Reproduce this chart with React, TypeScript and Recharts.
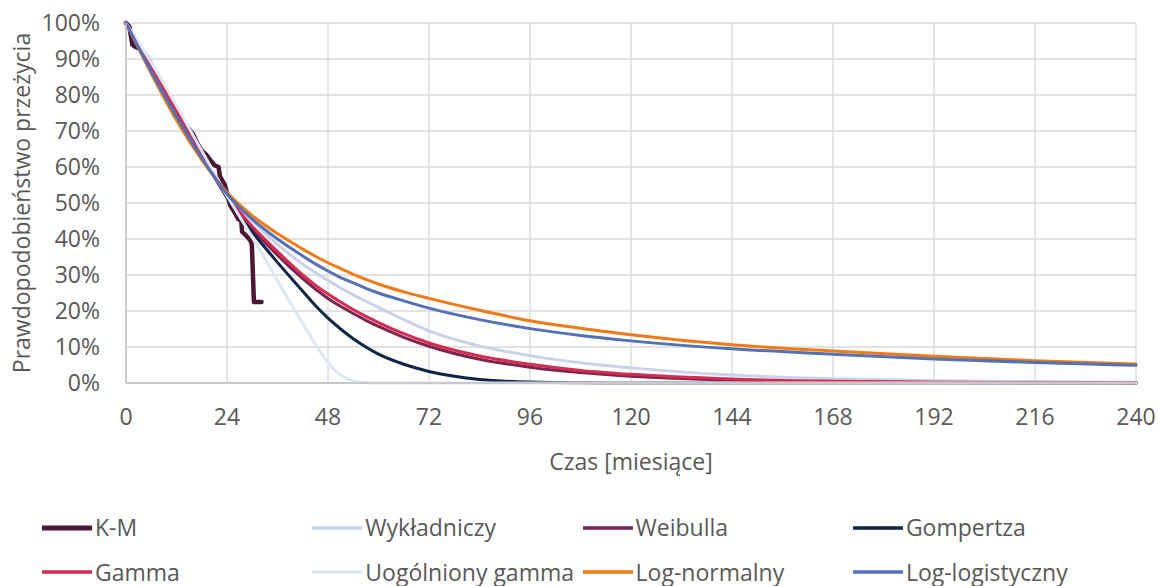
import React from "react";
import { LineChart, Line, XAxis, YAxis, CartesianGrid, Legend } from "recharts";

const MONTHS = [0, 6, 12, 18, 24, 30, 36, 42, 45, 48, 51, 54, 57, 60, 66, 72, 84, 96, 108, 120, 144, 168, 192, 216, 240];

const EXPONENTIAL = [100, 87.5, 75.5, 63.5, 52.5, 45, 38.5, 33, 30.7, 28.5, 26.4, 24.5, 22.7, 21, 17.6, 14.5, 10.3, 7.6, 5.6, 4.2, 2.2, 1.2, 0.7, 0.4, 0.2];
const WEIBULL = [100, 88, 75.5, 63, 52, 43, 35.5, 29, 26.1, 23.5, 21.3, 19.3, 17.4, 15.7, 12.7, 10.2, 6.6, 4.4, 2.9, 1.9, 0.8, 0.35, 0.15, 0.06, 0.03];
const GOMPERTZ = [100, 88.5, 76, 63.5, 51.5, 42, 33.5, 25.5, 21.5, 18, 15, 12.3, 10, 8, 5.2, 3.2, 1, 0.25, 0.05, 0, 0, 0, 0, 0, 0];
const GAMMA = [100, 88, 75.5, 63, 52, 43.5, 36.5, 30, 27.2, 24.7, 22.5, 20.4, 18.5, 16.8, 13.7, 11.1, 7.5, 5.2, 3.5, 2.4, 1.1, 0.5, 0.22, 0.1, 0.05];
const GEN_GAMMA = [100, 89, 77, 64.5, 52, 40.5, 28.5, 16.5, 10.8, 5.6, 2.2, 0.6, 0.1, 0, 0, 0, 0, 0, 0, 0, 0, 0, 0, 0, 0];
const LOG_NORMAL = [100, 86, 73, 62, 53, 46.5, 41.5, 37.2, 35.2, 33.4, 31.8, 30.2, 28.8, 27.5, 25.3, 23.5, 20.2, 17.3, 15.2, 13.4, 10.6, 8.9, 7.4, 6.2, 5.3];
const LOG_LOGISTIC = [100, 86.5, 74, 62.5, 52.5, 45.5, 40, 35.3, 33.1, 31.1, 29.3, 27.8, 26.3, 25, 22.8, 20.8, 17.6, 15.1, 13.2, 11.7, 9.5, 8, 6.7, 5.7, 4.9];

// Kaplan-Meier estimate
const KM_MONTHS = [0, 0.8, 1.5, 2, 3, 4, 5, 6, 7, 8, 9, 10, 11, 12, 13, 14, 15, 16, 17, 18, 19, 20, 21, 22, 22.3, 23.5, 24, 24.7, 25.5, 26.7, 27.4, 27.6, 28.5, 29.6, 29.9, 30.4, 32.2];
const KM_VALUES = [100, 99, 94, 93.5, 93, 92, 90.5, 88.5, 86, 84, 82, 80, 77.5, 75.5, 73.5, 72, 70.5, 69, 66.5, 64.5, 63.5, 62, 60.5, 60, 57.5, 55, 52.8, 49.5, 48, 45.5, 45, 42, 41, 39.5, 38.5, 22.5, 22.5];

const X_TICKS = [0, 24, 48, 72, 96, 120, 144, 168, 192, 216, 240];
const Y_TICKS = [0, 10, 20, 30, 40, 50, 60, 70, 80, 90, 100];

const toPoints = (xs: number[], ys: number[]) => xs.map((x, i) => ({ x, y: ys[i] }));

const SERIES = [
  { name: "K-M", color: "#4b1734", width: 4.5, type: "linear", points: toPoints(KM_MONTHS, KM_VALUES) },
  { name: "Wykładniczy", color: "#c9d2ea", width: 3, type: "monotone", points: toPoints(MONTHS, EXPONENTIAL) },
  { name: "Weibulla", color: "#7a2550", width: 3, type: "monotone", points: toPoints(MONTHS, WEIBULL) },
  { name: "Gompertza", color: "#0c2548", width: 3, type: "monotone", points: toPoints(MONTHS, GOMPERTZ) },
  { name: "Gamma", color: "#d62a50", width: 3, type: "monotone", points: toPoints(MONTHS, GAMMA) },
  { name: "Uogólniony gamma", color: "#dde6f3", width: 3, type: "monotone", points: toPoints(MONTHS, GEN_GAMMA) },
  { name: "Log-normalny", color: "#f17a16", width: 3, type: "monotone", points: toPoints(MONTHS, LOG_NORMAL) },
  { name: "Log-logistyczny", color: "#5470b6", width: 3, type: "monotone", points: toPoints(MONTHS, LOG_LOGISTIC) },
];

const FONT = "'Open Sans', sans-serif";
const TEXT = "#595959";

const LegendGrid = () => (
  <div style={{ position: "relative", width: 1158, height: 81, fontFamily: FONT, fontSize: 23, color: TEXT, lineHeight: 1 }}>
    {SERIES.map((s, i) => (
      <div
        key={s.name}
        style={{
          position: "absolute",
          left: 42 + (i % 4) * 270.3,
          top: i < 4 ? 10.5 : 55,
          height: 24,
          display: "flex",
          alignItems: "center",
          whiteSpace: "nowrap",
        }}
      >
        <svg width={50} height={8} style={{ marginRight: 3 }}>
          <line x1={1} y1={4} x2={49} y2={4} stroke={s.color} strokeWidth={s.name === "K-M" ? 5 : 3.5} strokeLinecap="round" />
        </svg>
        <span>{s.name}</span>
      </div>
    ))}
  </div>
);

export default function App() {
  return (
    <div style={{ width: 1158, height: 586, background: "#fff", fontFamily: FONT }}>
      <style>{"body{margin:0}"}</style>
      <LineChart width={1158} height={586} margin={{ top: 23, right: 22, bottom: 22, left: 0 }}>
        <CartesianGrid stroke="#d9d9d9" strokeWidth={1.3} />
        <XAxis
          dataKey="x"
          type="number"
          domain={[0, 240]}
          ticks={X_TICKS}
          height={100}
          tickSize={0}
          tickMargin={26}
          axisLine={{ stroke: "#bfbfbf", strokeWidth: 1.5 }}
          tick={{ fontSize: 23, fill: TEXT, fontFamily: FONT }}
          label={(props: any) => {
            const vb = props.viewBox;
            return (
              <text x={vb.x + vb.width / 2} y={470} textAnchor="middle" fontSize={23} fill={TEXT} fontFamily={FONT}>
                Czas [miesiące]
              </text>
            );
          }}
        />
        <YAxis
          type="number"
          domain={[0, 100]}
          ticks={Y_TICKS}
          width={126}
          tickSize={0}
          tickMargin={26}
          tickFormatter={(v: number) => `${v}%`}
          axisLine={{ stroke: "#bfbfbf", strokeWidth: 1.5 }}
          tick={{ fontSize: 23, fill: TEXT, fontFamily: FONT }}
          label={(props: any) => {
            const vb = props.viewBox;
            const cy = vb.y + vb.height / 2;
            return (
              <text
                x={21}
                y={cy}
                transform={`rotate(-90, 21, ${cy})`}
                textAnchor="middle"
                dominantBaseline="central"
                fontSize={23}
                fill={TEXT}
                fontFamily={FONT}
              >
                Prawdopodobieństwo przeżycia
              </text>
            );
          }}
        />
        {SERIES.map((s) => (
          <Line
            key={s.name}
            name={s.name}
            data={s.points}
            dataKey="y"
            type={s.type as any}
            stroke={s.color}
            strokeWidth={s.width}
            strokeLinejoin="round"
            strokeLinecap="round"
            dot={false}
            activeDot={false}
            isAnimationActive={false}
          />
        ))}
        <Legend
          verticalAlign="bottom"
          content={() => <LegendGrid />}
          wrapperStyle={{ left: 0, top: 505, bottom: "auto", width: 1158, height: 81 }}
        />
      </LineChart>
    </div>
  );
}
